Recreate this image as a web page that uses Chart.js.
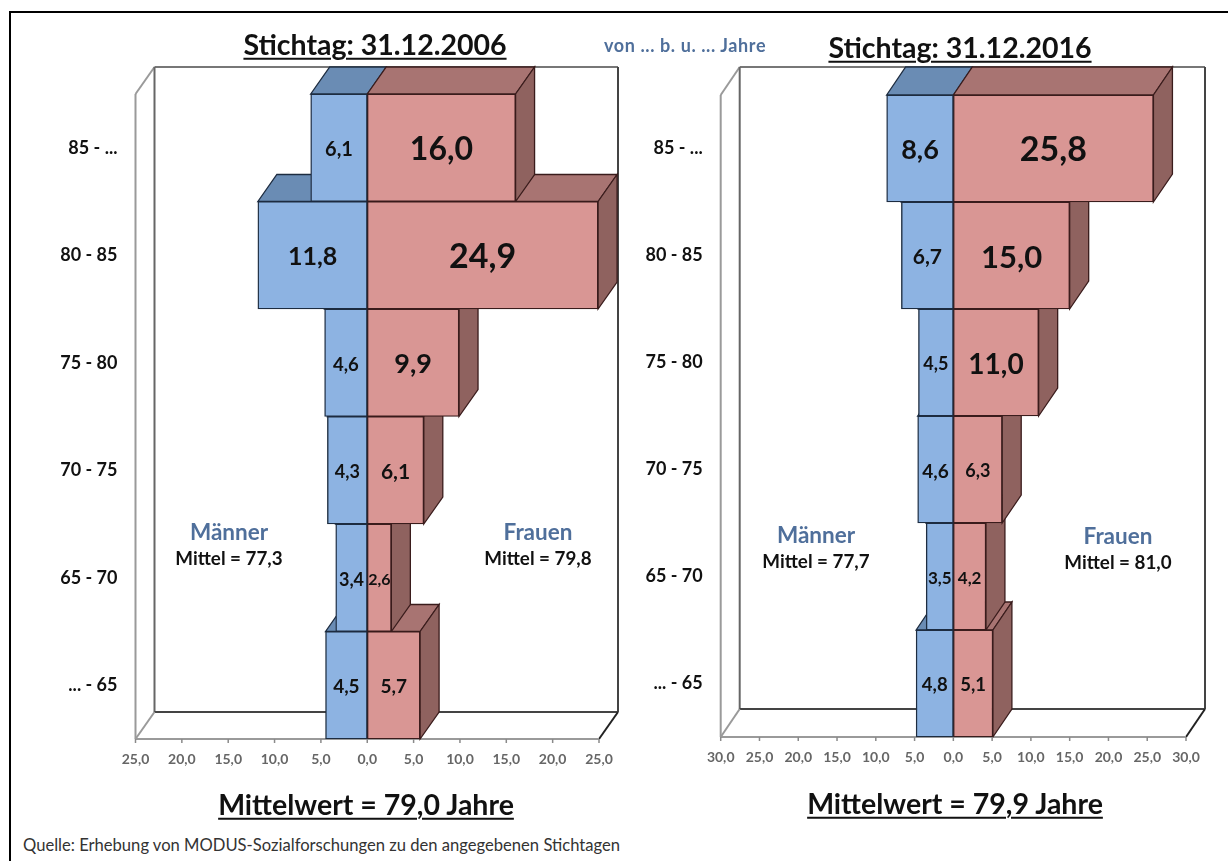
<!DOCTYPE html>
<html lang="de">
<head>
<meta charset="utf-8">
<title>Altersverteilung</title>
<script src="https://cdn.jsdelivr.net/npm/chart.js@4"></script>
<style>
html,body{margin:0;padding:0;background:#fff;width:1228px;height:861px;overflow:hidden}
body{position:relative;font-family:Lato,"Open Sans",sans-serif}
canvas{position:absolute;top:0}
#frameL{position:absolute;left:9px;top:11px;width:2px;height:850px;background:#000}
#frameT{position:absolute;left:9px;top:11px;width:1219px;height:2px;background:#000}
.t{position:absolute;transform:translate(-50%,-50%);white-space:nowrap;font-weight:700;line-height:1}
.title{font-size:28.5px;color:#111;text-decoration:underline;text-decoration-thickness:2px;text-underline-offset:3px}
.sex{font-size:22.5px;color:#4f6f9b}
.mean{font-size:18.8px;color:#111}
#unit{font-size:18px;letter-spacing:.6px;color:#4f6f9b}
#source{position:absolute;left:23px;top:836px;font-size:16.6px;color:#333;white-space:nowrap;line-height:18px}
</style>
</head>
<body>
<div id="frameL"></div><div id="frameT"></div>
<canvas id="c1" width="620" height="800" style="left:0"></canvas>
<canvas id="c2" width="608" height="800" style="left:620px"></canvas>

<div class="t title" style="left:375px;top:44px" id="t1"></div>
<div class="t title" style="left:960px;top:47px" id="t2"></div>
<div class="t" id="unit" style="left:685px;top:45px"></div>
<div class="t sex" style="left:229px;top:532px" id="m1"></div>
<div class="t mean" style="left:229px;top:558px" id="mm1"></div>
<div class="t sex" style="left:538px;top:532px" id="f1"></div>
<div class="t mean" style="left:538px;top:558px" id="fm1"></div>
<div class="t sex" style="left:816px;top:535px" id="m2"></div>
<div class="t mean" style="left:816px;top:561px" id="mm2"></div>
<div class="t sex" style="left:1118px;top:536px" id="f2"></div>
<div class="t mean" style="left:1118px;top:562px" id="fm2"></div>
<div class="t title" style="left:366px;top:804px" id="w1"></div>
<div class="t title" style="left:955px;top:803px" id="w2"></div>
<div id="source"></div>

<script>
// ---- data ----
const categories = ['85 - ...', '80 - 85', '75 - 80', '70 - 75', '65 - 70', '... - 65'];
const men2006    = [6.1, 11.8, 4.6, 4.3, 3.4, 4.5];
const women2006  = [16.0, 24.9, 9.9, 6.1, 2.6, 5.7];
const men2016    = [8.6, 6.7, 4.5, 4.6, 3.5, 4.8];
const women2016  = [25.8, 15.0, 11.0, 6.3, 4.2, 5.1];
const maxX2006 = 25;
const maxX2016 = 30;
const tickStep = 5;

const title2006 = 'Stichtag: 31.12.2006';
const title2016 = 'Stichtag: 31.12.2016';
const unitText  = 'von ... b. u. ... Jahre';
const menName   = 'Männer';
const womenName = 'Frauen';
const meanMen2006 = 'Mittel = 77,3', meanWomen2006 = 'Mittel = 79,8';
const meanMen2016 = 'Mittel = 77,7', meanWomen2016 = 'Mittel = 81,0';
const overall2006 = 'Mittelwert = 79,0 Jahre';
const overall2016 = 'Mittelwert = 79,9 Jahre';
const sourceText  = 'Quelle:  Erhebung von MODUS-Sozialforschungen zu den angegebenen Stichtagen';

// ---- styles ----
const labelFontMen2006   = [20, 25, 18.5, 18, 18, 19];
const labelFontWomen2006 = [32, 34, 27, 21, 16, 19];
const labelFontMen2016   = [27, 21, 18, 19, 17, 18.5];
const labelFontWomen2016 = [34, 31, 28, 18, 17, 18.5];
const colors = {
  menFront:'#8db3e2', menTop:'#6a8cb4', menBorder:'#1d2c40',
  womenFront:'#d99694', womenTop:'#a87472', womenSide:'#8f625f', womenBorder:'#3a1c1c',
  wallGrey:'#9a9a9a', wallDark:'#444', tick:'#8a8a8a', tickText:'#666', label:'#111'
};

const txt = {t1:title2006,t2:title2016,unit:unitText,m1:menName,m2:menName,f1:womenName,f2:womenName,
  mm1:meanMen2006,fm1:meanWomen2006,mm2:meanMen2016,fm2:meanWomen2016,w1:overall2006,w2:overall2016,source:sourceText};
Object.keys(txt).forEach(k => document.getElementById(k).textContent = txt[k]);

const fmt = v => Math.abs(v).toFixed(1).replace('.', ',');

function makeChart(id, men, women, maxX, geom, fontMen, fontWomen) {
  const dx = geom.dx, dy = geom.dy;
  const poly = (ctx, pts, fill, stroke) => {
    ctx.beginPath();
    pts.forEach((p,i) => i ? ctx.lineTo(p[0],p[1]) : ctx.moveTo(p[0],p[1]));
    ctx.closePath();
    ctx.fillStyle = fill; ctx.fill();
    ctx.lineWidth = 1.3; ctx.strokeStyle = stroke; ctx.stroke();
  };
  const line = (ctx, x1,y1,x2,y2,c,w) => {
    ctx.beginPath(); ctx.moveTo(x1,y1); ctx.lineTo(x2,y2);
    ctx.strokeStyle = c; ctx.lineWidth = w; ctx.stroke();
  };
  const box3d = {
    id:'box3d',
    beforeDatasetsDraw(chart){
      const ctx = chart.ctx, a = chart.chartArea;
      ctx.save();
      const L=a.left, R=a.right, B=a.bottom, T=a.top;
      // walls
      line(ctx, L,B, L,T, colors.wallGrey, 2);
      line(ctx, L,T, L+dx,T+dy, colors.wallGrey, 2);
      line(ctx, L+dx,T+dy, R+dx,T+dy, '#777', 2);
      line(ctx, L+dx,T+dy, L+dx,B+dy, '#666', 2);
      line(ctx, R+dx,T+dy, R+dx,B+dy, colors.wallDark, 2);
      line(ctx, L+dx,B+dy, R+dx,B+dy, colors.wallDark, 2);
      line(ctx, L,B, L+dx,B+dy, colors.wallGrey, 2);
      line(ctx, R,B, R+dx,B+dy, '#222', 2);
      line(ctx, L,B, R,B, colors.wallGrey, 2);
      // depth faces, lowest row first so upper rows sit over them
      const mm = chart.getDatasetMeta(0).data, ww = chart.getDatasetMeta(1).data;
      for (let i = mm.length-1; i >= 0; i--) {
        const m = mm[i], w = ww[i];
        const top = m.y - m.height/2, bot = m.y + m.height/2;
        poly(ctx, [[m.x,top],[m.base,top],[m.base+dx,top+dy],[m.x+dx,top+dy]], colors.menTop, colors.menBorder);
        poly(ctx, [[w.base,top],[w.x,top],[w.x+dx,top+dy],[w.base+dx,top+dy]], colors.womenTop, colors.womenBorder);
        poly(ctx, [[w.x,top],[w.x+dx,top+dy],[w.x+dx,bot+dy],[w.x,bot]], colors.womenSide, colors.womenBorder);
      }
      ctx.restore();
    },
    afterDatasetsDraw(chart){
      const ctx = chart.ctx;
      ctx.save();
      ctx.textAlign='center'; ctx.textBaseline='middle'; ctx.fillStyle=colors.label;
      [[0,men,fontMen],[1,women,fontWomen]].forEach(([d,vals,sizes]) => {
        chart.getDatasetMeta(d).data.forEach((el,i) => {
          ctx.font = `700 ${sizes[i]}px Lato, "Open Sans", sans-serif`;
          ctx.fillText(fmt(vals[i]), (el.x+el.base)/2, el.y + 2);
        });
      });
      ctx.restore();
    }
  };
  return new Chart(document.getElementById(id), {
    type:'bar',
    data:{
      labels:categories,
      datasets:[
        {label:menName, data:men.map(v=>-v), backgroundColor:colors.menFront, borderColor:colors.menBorder, borderWidth:1.4, borderSkipped:false, categoryPercentage:1, barPercentage:1},
        {label:womenName, data:women, backgroundColor:colors.womenFront, borderColor:colors.womenBorder, borderWidth:1.4, borderSkipped:false, categoryPercentage:1, barPercentage:1}
      ]
    },
    options:{
      indexAxis:'y', responsive:false, animation:false,
      layout:{padding:{top:geom.top,right:geom.right,left:0,bottom:0}},
      plugins:{legend:{display:false},tooltip:{enabled:false},title:{display:false}},
      scales:{
        x:{
          stacked:true, min:-maxX, max:maxX,
          afterFit(s){ s.height = geom.xH; s.paddingLeft = 0; s.paddingRight = 0; },
          border:{display:false},
          grid:{display:false, drawTicks:false},
          ticks:{stepSize:tickStep, autoSkip:false, maxRotation:0, padding:12, color:colors.tickText,
                 font:{family:'Lato, "Open Sans", sans-serif', size:14, weight:'700'}, callback:v=>fmt(v)}
        },
        y:{
          stacked:true,
          afterFit(s){ s.width = geom.yW; s.paddingTop = 0; s.paddingBottom = 0; },
          border:{display:false},
          grid:{display:false, drawTicks:false},
          ticks:{padding:18, color:'#111', font:{family:'Lato, "Open Sans", sans-serif', size:18, weight:'700'}}
        }
      }
    },
    plugins:[box3d, {
      id:'xticks',
      afterDraw(chart){
        const ctx = chart.ctx, s = chart.scales.x, b = chart.chartArea.bottom;
        ctx.save();
        s.ticks.forEach(t => { const x = s.getPixelForValue(t.value);
          ctx.beginPath(); ctx.moveTo(x,b); ctx.lineTo(x,b+4);
          ctx.strokeStyle = colors.tick; ctx.lineWidth = 1.5; ctx.stroke(); });
        ctx.restore();
      }
    }]
  });
}

makeChart('c1', men2006, women2006, maxX2006, {top:94,right:21,xH:61,yW:135.5,dx:19,dy:-27}, labelFontMen2006, labelFontWomen2006);
makeChart('c2', men2016, women2016, maxX2016, {top:95,right:42,xH:63,yW:100.7,dx:19,dy:-28}, labelFontMen2016, labelFontWomen2016);
</script>
</body>
</html>
